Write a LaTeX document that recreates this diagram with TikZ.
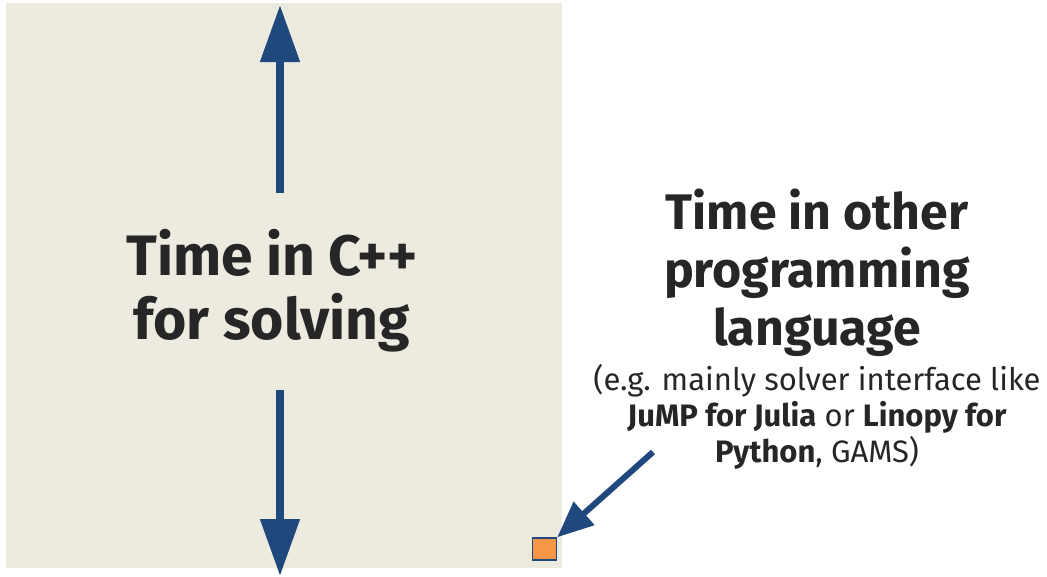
\documentclass[tikz,border=0pt]{standalone}
\usepackage{fontspec}
\setmainfont{Fira Sans}
\usetikzlibrary{arrows.meta}
\definecolor{panel}{HTML}{EDEBE0}
\definecolor{navy}{HTML}{1F497D}
\definecolor{ink}{HTML}{262626}
\definecolor{marker}{HTML}{F79646}
\tikzset{
  bigarrow/.style={navy, line width=8pt, -{Triangle[width=38pt,length=57pt]}},
  bigtext/.style={text=ink, font=\fontsize{57}{64}\selectfont\bfseries, align=center},
  smalltext/.style={text=ink, font=\fontsize{31}{36}\selectfont, align=center},
}
\begin{document}
\begin{tikzpicture}[x=1pt,y=-1pt]
\useasboundingbox (0,0) rectangle (1047,576);
\fill[panel] (6,3) rectangle (562,568);
\node[bigtext] (solve) at (272,291) {Time in C++\\for solving};
\coordinate (upstart) at (280,193);
\coordinate (uptip) at (280,5);
\coordinate (downstart) at (280,390);
\coordinate (downtip) at (280,576);
\draw[bigarrow] (upstart) -- (uptip);
\draw[bigarrow] (downstart) -- (downtip);
\node[bigtext, font=\fontsize{50}{58}\selectfont\bfseries] (other) at (817,273) {Time in other\\programming\\language};
\node[smalltext] (detail) at (817,417) {(e.g. mainly solver interface like\\\textbf{JuMP for Julia} or \textbf{Linopy for}\\\textbf{Python}, GAMS)};
\node[draw=navy, line width=1.5pt, fill=marker, minimum width=24pt, minimum height=22pt, inner sep=0pt] (mark) at (544.5,549) {};
\coordinate (diagstart) at (653,452);
\draw[navy, line width=6pt, -{Triangle[width=30pt,length=36pt]}] (diagstart) -- (mark.north east);
\end{tikzpicture}
\end{document}
